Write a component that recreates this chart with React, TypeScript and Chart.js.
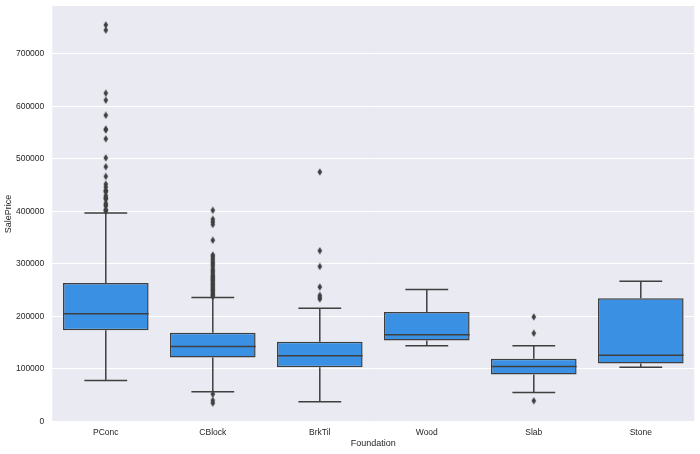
import React, { useEffect, useRef } from "react";
import { Chart, registerables } from "chart.js";

Chart.register(...registerables);

const categories = ["PConc", "CBlock", "BrkTil", "Wood", "Slab", "Stone"];
const q1 = [173500, 121700, 103300, 154000, 89400, 110300];
const medians = [205000, 142600, 125000, 164800, 104600, 126000];
const q3 = [263700, 169000, 151500, 208500, 119200, 234400];
const whiskerLow = [78000, 56500, 37400, 143900, 55100, 103300];
const whiskerHigh = [396800, 236000, 215500, 251000, 143900, 266700];

const outliersPConc = [
  755000, 745000, 625000, 611657, 582933, 556581, 555000, 538000, 501837, 485000,
  466500, 451950, 446261, 440000, 438780, 437154, 430000, 426000, 424870, 423000,
  415298, 412500, 410000, 402861, 402000, 401179,
];
const outliersCBlock = [
  402000, 385000, 380000, 375000, 345000, 317000, 314000, 310000, 306000, 302000,
  299000, 295000, 290000, 287000, 284000, 280000, 277000, 275000, 272000, 270000,
  268000, 265000, 262000, 260000, 257000, 255000, 252000, 250000, 248000, 245000,
  242000, 240000, 238000, 52000, 40000, 34900,
];
const outliersBrkTil = [475000, 325000, 295000, 256000, 240000, 236000, 233000];
const outliersWood: number[] = [];
const outliersSlab = [199000, 168000, 39300];
const outliersStone: number[] = [];

const outlierLists = [
  outliersPConc,
  outliersCBlock,
  outliersBrkTil,
  outliersWood,
  outliersSlab,
  outliersStone,
];

const yTicks = [0, 100000, 200000, 300000, 400000, 500000, 600000, 700000];

const BOX_FILL = "rgb(58,144,227)";
const LINE = "#3f3f3f";
const TEXT = "#262626";
const FONT = "'Liberation Sans', Arial, sans-serif";

function makeDiamond(): HTMLCanvasElement {
  const c = document.createElement("canvas");
  c.width = 6;
  c.height = 8;
  const ctx = c.getContext("2d")!;
  ctx.fillStyle = LINE;
  ctx.beginPath();
  ctx.moveTo(3, 0.3);
  ctx.lineTo(5.3, 4);
  ctx.lineTo(3, 7.7);
  ctx.lineTo(0.7, 4);
  ctx.closePath();
  ctx.fill();
  return c;
}

const boxPlugin = {
  id: "boxParts",
  beforeDraw(chart: any) {
    const { ctx, chartArea } = chart;
    ctx.save();
    ctx.fillStyle = "#eaeaf2";
    ctx.fillRect(chartArea.left, chartArea.top, chartArea.right - chartArea.left, chartArea.bottom - chartArea.top);
    ctx.restore();
  },
  beforeDatasetsDraw(chart: any) {
    const { ctx } = chart;
    const y = chart.scales.y;
    const meta = chart.getDatasetMeta(0);
    ctx.save();
    ctx.strokeStyle = LINE;
    ctx.lineWidth = 1.5;
    categories.forEach((_, i) => {
      const el = meta.data[i];
      const cx = el.x;
      const half = el.width / 4;
      const yl = y.getPixelForValue(whiskerLow[i]);
      const yh = y.getPixelForValue(whiskerHigh[i]);
      const y1 = y.getPixelForValue(q1[i]);
      const y3 = y.getPixelForValue(q3[i]);
      ctx.beginPath();
      ctx.moveTo(cx, y1);
      ctx.lineTo(cx, yl);
      ctx.moveTo(cx, y3);
      ctx.lineTo(cx, yh);
      ctx.moveTo(cx - half, yl);
      ctx.lineTo(cx + half, yl);
      ctx.moveTo(cx - half, yh);
      ctx.lineTo(cx + half, yh);
      ctx.stroke();
    });
    ctx.restore();
  },
  afterDatasetsDraw(chart: any) {
    const { ctx } = chart;
    const y = chart.scales.y;
    const meta = chart.getDatasetMeta(0);
    ctx.save();
    ctx.strokeStyle = LINE;
    ctx.lineWidth = 1.5;
    categories.forEach((_, i) => {
      const el = meta.data[i];
      const ym = y.getPixelForValue(medians[i]);
      ctx.beginPath();
      ctx.moveTo(el.x - el.width / 2, ym);
      ctx.lineTo(el.x + el.width / 2, ym);
      ctx.stroke();
    });
    ctx.restore();
  },
};

export default function App() {
  const ref = useRef<HTMLCanvasElement>(null);

  useEffect(() => {
    if (!ref.current) return;
    const diamond = makeDiamond();
    const outlierPoints: { x: string; y: number }[] = [];
    outlierLists.forEach((list, i) => {
      list.forEach((v) => outlierPoints.push({ x: categories[i], y: v }));
    });

    const chart = new Chart(ref.current, {
      type: "bar",
      data: {
        labels: categories,
        datasets: [
          {
            type: "bar",
            data: categories.map((_, i) => [q1[i], q3[i]]),
            backgroundColor: BOX_FILL,
            borderColor: LINE,
            borderWidth: 1.5,
            borderSkipped: false,
            barPercentage: 0.8,
            categoryPercentage: 1,
            order: 2,
          } as any,
          {
            type: "scatter",
            data: outlierPoints as any,
            pointStyle: diamond as any,
            pointRadius: 3,
            backgroundColor: LINE,
            borderColor: LINE,
            order: 1,
          } as any,
        ],
      },
      options: {
        responsive: false,
        animation: false,
        layout: { padding: { top: 6, right: 5.7, left: 0, bottom: 0 } },
        plugins: {
          legend: { display: false },
          tooltip: { enabled: false },
        },
        scales: {
          x: {
            type: "category",
            offset: true,
            grid: { display: false, drawTicks: false },
            border: { display: false },
            ticks: {
              color: TEXT,
              font: { family: FONT, size: 8.5 },
              padding: 6,
              maxRotation: 0,
            },
            title: {
              display: true,
              text: "Foundation",
              color: TEXT,
              font: { family: FONT, size: 9 },
              padding: { top: 0, bottom: 4.9 },
            },
            afterFit(scale: any) {
              scale.height = 32;
              scale.paddingLeft = 0;
              scale.paddingRight = 0;
            },
          },
          y: {
            type: "linear",
            min: -1100,
            max: 791000,
            grid: { color: "#ffffff", lineWidth: 1, drawTicks: false },
            border: { display: false },
            ticks: {
              color: TEXT,
              font: { family: FONT, size: 8.5 },
              padding: 8,
              callback: (v: any) => String(Math.round(Number(v))),
            },
            afterBuildTicks(scale: any) {
              scale.ticks = yTicks.map((v) => ({ value: v }));
            },
            title: {
              display: true,
              text: "SalePrice",
              color: TEXT,
              font: { family: FONT, size: 9 },
              padding: { top: 3.3, bottom: 0 },
            },
            afterFit(scale: any) {
              scale.width = 52.3;
              scale.paddingTop = 0;
              scale.paddingBottom = 0;
            },
          },
        },
      },
      plugins: [boxPlugin],
    });
    return () => chart.destroy();
  }, []);

  return (
    <div style={{ position: "absolute", left: 0, top: 0, width: 700, height: 454, background: "#ffffff" }}>
      <canvas ref={ref} width={700} height={454} />
    </div>
  );
}
